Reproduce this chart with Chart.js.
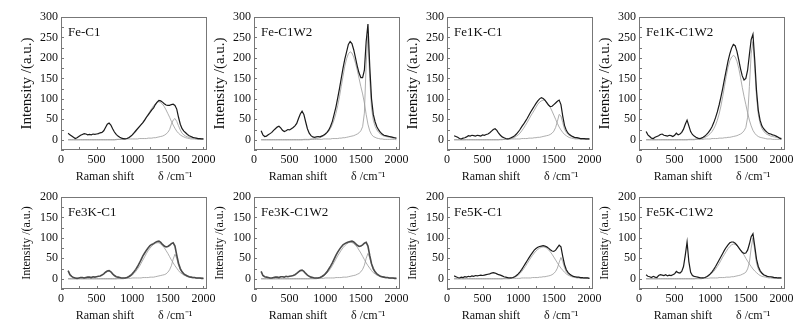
<!DOCTYPE html>
<html>
<head>
<meta charset="utf-8">
<script src="https://cdn.jsdelivr.net/npm/chart.js@4/dist/chart.umd.min.js"></script>
<style>
  body { margin: 0; background: #fff; width: 809px; height: 331px; position: relative; overflow: hidden; }
  canvas { position: absolute; }
</style>
</head>
<body>
<script>
// Raman shift grid (cm-1)
const shift = [
  100,125,150,175, 200,225,250,275, 300,325,350,375, 400,425,450,475,
  500,525,550,575, 600,625,650,675, 700,725,750,775, 800,825,850,875,
  900,925,950,975, 1000,1025,1050,1075, 1100,1125,1150,1175, 1200,1225,1250,1275,
  1300,1325,1350,1375, 1400,1425,1450,1475, 1500,1525,1550,1575, 1600,1625,1650,1675,
  1700,1725,1750,1775, 1800,1825,1850,1875, 1900,1925,1950,1975, 2000
];

const panelNames = ['Fe-C1', 'Fe-C1W2', 'Fe1K-C1', 'Fe1K-C1W2', 'Fe3K-C1', 'Fe3K-C1W2', 'Fe5K-C1', 'Fe5K-C1W2'];
const xTickMarks = [0, 250, 500, 750, 1000, 1250, 1500, 1750, 2000];
const xTickLabels = [0, 500, 1000, 1500, 2000];
const yTickLabelsTop = [0, 50, 100, 150, 200, 250, 300];
const yTickLabelsBottom = [0, 50, 100, 150, 200];

// Fe-C1
const feC1Raw = [
  16,12,9,6, 3,5,8,11, 13,15,14,12, 13,12,14,13,
  14,15,17,18, 22,30,38,41, 36,27,19,13, 9,6,4,3,
  2,3,5,8, 12,17,22,27, 32,37,42,48, 55,61,67,73,
  78,86,92,96, 95,92,88,85, 84,84,86,87, 84,75,55,38,
  27,21,17,13, 10,8,6,5, 4,3,3,2, 2
];
const feC1D = [
  0,0,0,0, 0,0,0,0, 0,0,0,0, 0,0,0,0,
  0,0,0,0, 0,0,0,0, 0,0,0,1, 1,1,1,1,
  2,3,5,8, 11,15,20,25, 31,37,43,50, 56,63,70,77,
  83,88,92,93, 91,87,81,73, 64,55,45,36, 28,21,16,12,
  9,7,5,4, 3,2,2,2, 1,1,1,1, 1
];
const feC1G = [
  0,0,0,0, 0,0,0,0, 0,0,0,0, 0,0,0,0,
  0,0,0,0, 0,0,0,0, 0,0,0,0, 1,1,1,1,
  2,2,2,2, 2,2,2,2, 3,3,3,3, 3,4,4,4,
  5,5,6,7, 8,9,11,14, 18,25,38,48, 52,45,34,24,
  16,12,9,7, 6,5,4,3, 3,2,2,2, 2
];

// Fe-C1W2
const feC1W2Raw = [
  22,12,8,9, 12,15,18,23, 27,31,33,29, 23,20,22,25,
  24,27,30,34, 40,52,63,70, 62,44,27,16, 10,7,6,7,
  8,7,9,11, 14,18,24,33, 45,62,80,102, 125,150,175,197,
  215,233,240,235, 220,200,180,163, 152,152,170,240, 283,180,100,62,
  44,32,24,18, 14,11,10,9, 8,7,6,5, 4
];
const feC1W2D = [
  0,0,0,0, 0,0,0,0, 0,0,0,0, 0,0,0,0,
  0,0,0,0, 0,0,0,0, 1,1,1,1, 2,2,3,3,
  4,5,7,9, 12,16,21,28, 37,49,64,83, 105,130,155,180,
  198,210,215,212, 202,187,170,150, 130,112,90,62, 38,22,13,8,
  6,4,3,2, 2,1,1,1, 1,1,1,1, 0
];
const feC1W2G = [
  0,0,0,0, 0,0,0,0, 0,0,0,0, 0,0,0,0,
  0,0,0,0, 0,0,0,0, 0,0,0,0, 1,1,1,1,
  1,1,1,2, 2,2,2,2, 3,3,3,3, 4,4,5,5,
  6,7,8,9, 10,12,14,17, 22,32,65,185, 255,150,78,48,
  33,24,18,14, 11,9,8,7, 6,5,4,4, 3
];

// Fe1K-C1
const fe1KRaw = [
  10,8,6,3, 2,4,5,7, 10,9,11,10, 9,11,10,9,
  12,11,13,14, 17,21,25,27, 23,16,11,7, 5,3,2,3,
  5,7,10,14, 19,25,32,38, 45,52,60,68, 75,82,89,95,
  100,103,101,97, 91,85,81,82, 86,90,94,97, 86,58,35,23,
  16,12,9,7, 5,5,4,3, 3,3,2,2, 2
];
const fe1KD = [
  0,0,0,0, 0,0,0,0, 0,0,0,0, 0,0,0,0,
  0,0,0,0, 0,0,0,0, 0,0,1,1, 1,1,2,2,
  3,4,6,9, 12,16,22,28, 35,42,50,58, 65,72,80,87,
  92,95,97,96, 92,86,79,70, 60,50,40,31, 24,18,13,10,
  7,5,4,3, 2,2,2,1, 1,1,1,1, 1
];
const fe1KG = [
  0,0,0,0, 0,0,0,0, 0,0,0,0, 0,0,0,0,
  0,0,0,0, 0,0,0,0, 0,0,0,0, 1,1,1,1,
  2,2,2,2, 2,2,3,3, 3,3,4,4, 4,5,5,6,
  6,7,8,9, 10,11,13,16, 21,30,45,62, 58,42,26,18,
  13,10,8,6, 5,4,4,3, 3,3,2,2, 2
];

// Fe1K-C1W2
const fe1KW2Raw = [
  20,12,8,4, 3,6,8,10, 13,14,11,10, 9,11,10,8,
  11,16,12,14, 18,26,38,48, 34,20,13,9, 6,4,3,4,
  6,9,13,18, 24,32,42,54, 68,85,104,125, 148,170,192,210,
  224,233,230,216, 196,174,156,146, 150,170,208,245, 258,195,120,72,
  48,34,27,22, 18,15,14,12, 11,9,7,4, 2
];
const fe1KW2D = [
  0,0,0,0, 0,0,0,0, 0,0,0,0, 0,0,0,0,
  0,0,0,0, 0,0,0,0, 1,1,1,1, 2,2,3,3,
  4,6,8,11, 15,20,27,36, 48,63,82,105, 130,155,177,193,
  202,206,203,192, 175,153,128,106, 86,66,48,34, 23,16,11,8,
  6,5,4,3, 2,2,2,1, 1,1,1,1, 1
];
const fe1KW2G = [
  0,0,0,0, 0,0,0,0, 0,0,0,0, 0,0,0,0,
  0,0,0,0, 0,0,0,0, 0,0,0,0, 1,1,1,1,
  1,2,2,2, 2,3,3,3, 3,4,4,4, 5,5,6,6,
  7,8,9,10, 12,14,17,22, 30,55,130,210, 240,175,105,62,
  40,28,21,16, 13,11,9,8, 7,6,5,4, 4
];

// Fe3K-C1
const fe3KRaw = [
  20,10,6,3, 2,1,2,3, 3,2,3,4, 4,3,5,4,
  5,6,7,9, 12,16,19,20, 17,12,8,5, 4,3,2,2,
  2,3,5,8, 12,17,23,30, 38,47,56,63, 70,76,81,84,
  86,89,91,92, 89,84,80,78, 79,82,86,88, 80,58,38,25,
  17,12,9,7, 5,4,3,3, 2,2,2,1, 1
];
const fe3KD = [
  0,0,0,0, 0,0,0,0, 0,0,0,0, 0,0,0,0,
  0,0,0,0, 0,0,0,0, 0,0,0,0, 1,1,1,2,
  2,3,4,6, 9,13,18,24, 30,38,46,54, 62,69,75,80,
  84,87,88,88, 85,81,76,69, 62,54,46,39, 32,26,20,15,
  12,9,7,5, 4,3,2,2, 1,1,1,1, 1
];
const fe3KG = [
  0,0,0,0, 0,0,0,0, 0,0,0,0, 0,0,0,0,
  0,0,0,0, 0,0,0,0, 0,0,0,0, 0,0,0,0,
  1,1,1,1, 2,2,2,2, 2,2,3,3, 3,3,4,4,
  4,5,6,7, 8,9,10,12, 16,22,32,48, 60,50,33,22,
  15,11,8,6, 5,4,3,3, 2,2,2,2, 1
];

// Fe3K-C1W2
const fe3KW2Raw = [
  18,8,5,4, 3,2,2,3, 4,4,3,5, 5,4,6,5,
  6,7,8,10, 13,17,20,21, 18,13,9,6, 4,3,2,2,
  2,3,5,8, 12,17,24,31, 39,48,57,65, 72,78,83,86,
  88,90,91,92, 90,86,82,79, 80,83,87,89, 80,57,37,25,
  17,12,9,6, 5,4,3,3, 2,2,2,1, 1
];
const fe3KW2D = [
  0,0,0,0, 0,0,0,0, 0,0,0,0, 0,0,0,0,
  0,0,0,0, 0,0,0,0, 0,0,0,0, 1,1,1,2,
  2,3,5,7, 10,14,19,25, 32,40,48,56, 63,70,76,81,
  85,88,89,89, 86,82,77,70, 63,55,47,39, 32,26,20,15,
  12,9,7,5, 4,3,2,2, 1,1,1,1, 1
];
const fe3KW2G = [
  0,0,0,0, 0,0,0,0, 0,0,0,0, 0,0,0,0,
  0,0,0,0, 0,0,0,0, 0,0,0,0, 0,0,0,0,
  1,1,1,1, 2,2,2,2, 2,2,3,3, 3,3,4,4,
  4,5,6,7, 8,9,11,13, 17,23,33,50, 62,51,34,22,
  15,11,8,6, 5,4,3,3, 2,2,2,2, 1
];

// Fe5K-C1
const fe5KRaw = [
  7,5,3,2, 4,3,5,4, 6,5,7,6, 8,7,8,9,
  8,9,10,11, 12,14,15,14, 12,10,9,7, 5,4,3,2,
  2,3,5,8, 12,17,23,30, 37,44,51,58, 64,70,74,77,
  79,80,81,80, 78,75,71,68, 67,70,76,82, 78,55,35,22,
  15,11,8,6, 5,4,4,3, 3,2,2,2, 1
];
const fe5KD = [
  0,0,0,0, 0,0,0,0, 0,0,0,0, 0,0,0,0,
  0,0,0,0, 0,0,0,0, 0,0,0,0, 1,1,1,2,
  2,3,4,6, 9,13,18,24, 30,37,44,51, 57,63,68,72,
  75,77,78,77, 75,71,66,60, 53,46,39,32, 26,21,16,12,
  9,7,5,4, 3,2,2,1, 1,1,1,1, 1
];
const fe5KG = [
  0,0,0,0, 0,0,0,0, 0,0,0,0, 0,0,0,0,
  0,0,0,0, 0,0,0,0, 0,0,0,0, 0,0,0,0,
  1,1,1,1, 1,1,2,2, 2,2,2,2, 3,3,3,3,
  4,4,5,5, 6,7,8,10, 13,18,26,40, 52,42,27,17,
  12,9,7,5, 4,3,3,2, 2,2,2,1, 1
];

// Fe5K-C1W2
const fe5KW2Raw = [
  10,6,5,3, 6,4,3,8, 10,9,8,10, 7,9,8,10,
  12,18,15,14, 18,30,58,90, 42,16,8,6, 5,4,3,2,
  2,3,5,8, 12,17,23,30, 38,46,54,62, 70,77,83,88,
  90,90,87,82, 76,70,65,62, 63,70,85,103, 110,80,48,30,
  20,14,10,8, 6,5,5,4, 3,3,2,2, 2
];
const fe5KW2D = [
  0,0,0,0, 0,0,0,0, 0,0,0,0, 0,0,0,0,
  0,0,0,0, 0,0,0,0, 0,0,0,0, 1,1,1,2,
  2,3,5,7, 10,14,18,24, 30,37,45,53, 60,67,74,79,
  83,85,84,81, 76,70,64,58, 50,43,36,30, 24,19,15,11,
  8,6,5,4, 3,2,2,1, 1,1,1,1, 1
];
const fe5KW2G = [
  0,0,0,0, 0,0,0,0, 0,0,0,0, 0,0,0,0,
  0,0,0,0, 0,0,0,0, 0,0,0,0, 0,0,0,0,
  1,1,1,1, 2,2,2,2, 2,3,3,3, 3,4,4,4,
  5,5,6,7, 8,9,11,13, 16,24,40,75, 100,70,38,24,
  16,12,9,7, 6,5,4,4, 3,3,2,2, 2
];

const measured = [feC1Raw, feC1W2Raw, fe1KRaw, fe1KW2Raw, fe3KRaw, fe3KW2Raw, fe5KRaw, fe5KW2Raw];
const fitD = [feC1D, feC1W2D, fe1KD, fe1KW2D, fe3KD, fe3KW2D, fe5KD, fe5KW2D];
const fitG = [feC1G, feC1W2G, fe1KG, fe1KW2G, fe3KG, fe3KW2G, fe5KG, fe5KW2G];

// layout
const plotLeft = [61, 254, 447, 639];
const rowTop = [10, 190];
const rowHeight = [178, 137];
const yAxisW = 47;
const plotW = 146;
const rightPad = 16;
const serif = '"Liberation Serif", "Times New Roman", serif';

Chart.defaults.font.family = serif;
Chart.defaults.color = '#111';

const pts = arr => shift.map((x, i) => ({ x: x, y: arr[i] }));

// box, inward ticks and panel label
const framePlugin = {
  id: 'frame',
  afterDatasetsDraw(chart, args, opts) {
    const { ctx, chartArea: a, scales: { x, y } } = chart;
    ctx.save();
    ctx.strokeStyle = '#777';
    ctx.lineWidth = 1;
    ctx.strokeRect(a.left + 0.5, a.top + 0.5, a.width - 1, a.height - 1);
    ctx.beginPath();
    x.ticks.forEach(t => {
      const px = Math.round(x.getPixelForValue(t.value)) + 0.5;
      ctx.moveTo(px, a.bottom);
      ctx.lineTo(px, a.bottom - 3);
    });
    y.ticks.forEach(t => {
      const py = Math.round(y.getPixelForValue(t.value)) + 0.5;
      ctx.moveTo(a.left, py);
      ctx.lineTo(a.left + 3, py);
    });
    ctx.stroke();
    ctx.fillStyle = '#111';
    ctx.font = '13px ' + serif;
    ctx.textBaseline = 'middle';
    ctx.fillText(opts.label, a.left + 7, a.top + 16);
    ctx.restore();
  }
};

panelNames.forEach((name, i) => {
  const row = Math.floor(i / 4);
  const col = i % 4;
  const cv = document.createElement('canvas');
  cv.width = yAxisW + plotW + rightPad;
  cv.height = rowHeight[row];
  cv.style.left = (plotLeft[col] - yAxisW) + 'px';
  cv.style.top = rowTop[row] + 'px';
  document.body.appendChild(cv);

  const yLabels = row === 0 ? yTickLabelsTop : yTickLabelsBottom;
  const rawColor = name.startsWith('Fe3K') ? '#4a4a4a' : '#1a1a1a';

  new Chart(cv, {
    type: 'line',
    data: {
      datasets: [
        { data: pts(measured[i]), borderColor: rawColor, borderWidth: name.startsWith('Fe3K') ? 1.6 : 1.2 },
        { data: pts(fitD[i]), borderColor: '#999', borderWidth: 0.8 },
        { data: pts(fitG[i]), borderColor: '#999', borderWidth: 0.8 }
      ]
    },
    options: {
      animation: false,
      responsive: false,
      devicePixelRatio: 1,
      layout: { padding: { top: 7, right: rightPad, left: 0, bottom: 0 } },
      elements: { point: { radius: 0 }, line: { tension: 0 } },
      plugins: {
        legend: { display: false },
        tooltip: { enabled: false },
        frame: { label: name }
      },
      scales: {
        x: {
          type: 'linear',
          min: 0,
          max: 2050,
          grid: { display: false, drawTicks: false },
          border: { display: false },
          afterBuildTicks: s => { s.ticks = xTickMarks.map(v => ({ value: v })); },
          ticks: {
            autoSkip: false,
            maxRotation: 0,
            padding: 3,
            font: { size: 12 },
            callback: v => xTickLabels.includes(v) ? String(v) : ''
          },
          title: {
            display: true,
            text: 'Raman shift\u2003\u2003δ /cm⁻¹',
            font: { size: 12 },
            padding: { top: 0, bottom: 4 }
          },
          afterFit: s => { s.height = 38; s.paddingLeft = 0; s.paddingRight = 0; }
        },
        y: {
          min: -25,
          max: row === 0 ? 300 : 200,
          grid: { display: false, drawTicks: false },
          border: { display: false },
          ticks: {
            stepSize: 25,
            autoSkip: false,
            padding: 3,
            font: { size: 12 },
            callback: v => yLabels.includes(v) ? String(v) : ''
          },
          title: {
            display: true,
            text: 'Intensity /(a.u.)',
            font: { size: row === 0 ? 15 : 12 },
            padding: { top: row === 0 ? 4 : 6, bottom: 0 }
          },
          afterFit: s => { s.width = yAxisW; s.paddingTop = 0; s.paddingBottom = 0; }
        }
      }
    },
    plugins: [framePlugin]
  });
});
</script>
</body>
</html>
